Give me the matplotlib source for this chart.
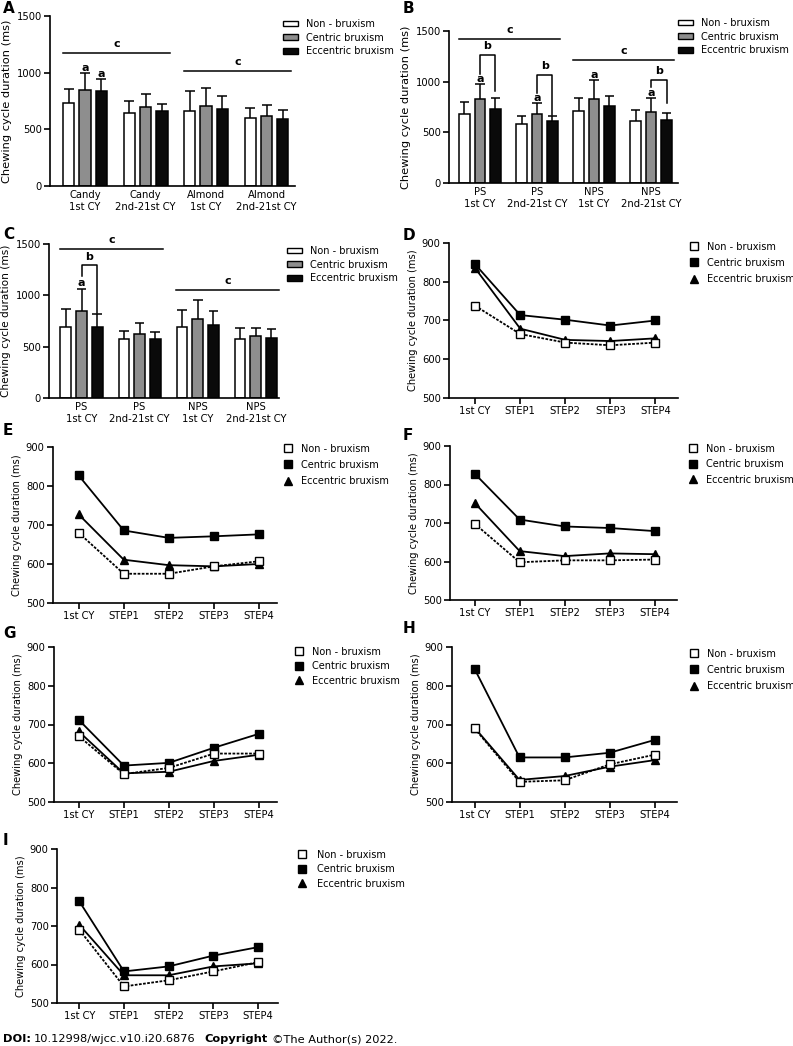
import matplotlib
matplotlib.use("Agg")
import matplotlib.pyplot as plt
from matplotlib.lines import Line2D
from matplotlib.patches import Patch

plt.rcParams['font.family'] = ['DejaVu Sans']
plt.rcParams['font.size'] = 7

W, H = 793, 1046

series = ['Non - bruxism', 'Centric bruxism', 'Eccentric bruxism']
labels_A = ['Candy\n1st CY', 'Candy\n2nd-21st CY', 'Almond\n1st CY', 'Almond\n2nd-21st CY']
labels_BC = ['PS\n1st CY', 'PS\n2nd-21st CY', 'NPS\n1st CY', 'NPS\n2nd-21st CY']
steps = ['1st CY', 'STEP1', 'STEP2', 'STEP3', 'STEP4']

# panel A - candy / almond
a_non = [734, 640, 666, 598]
a_cen = [846, 698, 707, 622]
a_ecc = [837, 666, 678, 592]
a_non_sd = [121, 112, 168, 92]
a_cen_sd = [147, 115, 159, 91]
a_ecc_sd = [106, 59, 118, 77]

# panel B
b_non = [676, 581, 706, 610]
b_cen = [827, 676, 827, 696]
b_ecc = [729, 610, 758, 617]
b_non_sd = [125, 85, 128, 112]
b_cen_sd = [151, 115, 187, 144]
b_ecc_sd = [114, 50, 105, 72]

# panel C
c_non = [690, 570, 690, 579]
c_cen = [843, 628, 768, 605]
c_ecc = [687, 579, 709, 589]
c_non_sd = [176, 84, 166, 98]
c_cen_sd = [221, 98, 182, 72]
c_ecc_sd = [130, 65, 140, 81]

# panels D-I (non, centric, eccentric)
d_non = [738, 665, 643, 636, 643]
d_cen = [845, 714, 702, 687, 700]
d_ecc = [835, 679, 650, 647, 654]
e_non = [680, 575, 575, 594, 607]
e_cen = [827, 686, 667, 671, 676]
e_ecc = [727, 611, 597, 594, 600]
f_non = [698, 598, 603, 603, 605]
f_cen = [828, 709, 691, 687, 679]
f_ecc = [752, 627, 614, 621, 619]
g_non = [670, 572, 588, 625, 625]
g_cen = [712, 594, 601, 640, 676]
g_ecc = [682, 574, 578, 606, 622]
h_non = [690, 552, 556, 597, 622]
h_cen = [844, 615, 615, 627, 660]
h_ecc = [692, 557, 567, 591, 608]
i_non = [690, 543, 559, 582, 606]
i_cen = [764, 582, 595, 623, 645]
i_ecc = [703, 572, 572, 595, 603]

# significance marks: c lines (first group, last group, y), a letters (group, series, y),
# b brackets (group, top, left end, right end)
sig_A = dict(c=[(0, 1, 1176), (2, 3, 1011)], a=[(0, 1, 1037), (0, 2, 990)], b=[])
sig_B = dict(c=[(0, 1, 1421), (2, 3, 1214)], a=[(0, 1, 1024), (1, 1, 840), (2, 1, 1070), (3, 1, 893)],
             b=[(0, 1263, 1075, 909), (1, 1067, 890, 673), (3, 1017, 945, 788)])
sig_C = dict(c=[(0, 1, 1451), (2, 3, 1054)], a=[(0, 1, 1120)], b=[(0, 1292, 1190, 826)])

fig = plt.figure(figsize=(W / 100, H / 100), dpi=100)


def add_ax(left, top, right, bottom):
    return fig.add_axes([left / W, 1 - bottom / H, (right - left) / W, (bottom - top) / H])


def style(ax, lab_size):
    for s in ['top', 'right']:
        ax.spines[s].set_visible(False)
    for s in ['left', 'bottom']:
        ax.spines[s].set_linewidth(1.2)
    ax.tick_params(width=1.2, length=4, labelsize=7.2, pad=2)
    ax.set_ylabel('Chewing cycle duration (ms)', fontsize=lab_size, labelpad=3)


def bar_panel(box, labels, means, sds, xlim, sig, leg, lab_size=8.2):
    ax = add_ax(*box)
    style(ax, lab_size)
    offs = [-0.27, 0, 0.27]
    w = 0.185
    colors = ['white', '#8e8e8e', '#0a0a0a']
    handles = []
    for k in range(3):
        xs = [g + offs[k] for g in range(len(labels))]
        ax.bar(xs, means[k], width=w, color=colors[k], edgecolor='black', linewidth=1.1, zorder=2)
        tops = [m + s for m, s in zip(means[k], sds[k])]
        ax.vlines(xs, means[k], tops, color='black', lw=1.1, zorder=1)
        ax.hlines(tops, [x - w * 0.45 for x in xs], [x + w * 0.45 for x in xs], color='black', lw=1.1)
        handles.append(Patch(facecolor=colors[k], edgecolor='black', linewidth=1.0, label=series[k]))
    ax.set_xlim(*xlim)
    ax.set_ylim(0, 1500)
    ax.set_yticks([0, 500, 1000, 1500])
    ax.set_xticks(range(len(labels)))
    ax.set_xticklabels(labels, linespacing=1.2)
    ax.tick_params(axis='x', length=0, pad=3)
    for g0, g1, y in sig['c']:
        ax.plot([g0 - 0.37, g1 + 0.4], [y, y], color='black', lw=1.1, clip_on=False)
        ax.text((g0 + g1) / 2 + 0.02, y + 35, 'c', ha='center', va='bottom', fontsize=8, fontweight='bold')
    for g, k, y in sig['a']:
        ax.text(g + offs[k], y, 'a', ha='center', va='center', fontsize=8, fontweight='bold')
    for g, top, yl, yr in sig['b']:
        x0, x1 = g + offs[1], g + offs[2]
        ax.plot([x0, x0, x1, x1], [yl, top, top, yr], color='black', lw=1.1, clip_on=False)
        ax.text((x0 + x1) / 2, top + 35, 'b', ha='center', va='bottom', fontsize=8, fontweight='bold')
    ax.legend(handles=handles, loc='upper left', bbox_to_anchor=(leg[0] / W, 1 - leg[1] / H),
              bbox_transform=fig.transFigure, frameon=False, fontsize=7, borderpad=0,
              handlelength=1.6, handleheight=0.5, handletextpad=0.8, labelspacing=0.38)
    return ax


def line_panel(box, non, cen, ecc, xlim, leg, spacing):
    ax = add_ax(*box)
    style(ax, 7.1)
    x = range(len(steps))
    ax.plot(x, ecc, color='black', lw=1.3, marker='^', ms=6, zorder=2)
    ax.plot(x, cen, color='black', lw=1.3, marker='s', ms=5.5, zorder=3)
    ax.plot(x, non, color='black', lw=1.3, ls=(0, (1.5, 0.8)), marker='s', ms=5.5,
            mfc='white', mec='black', mew=1.0, zorder=4)
    ax.set_xlim(*xlim)
    ax.set_ylim(500, 900)
    ax.set_yticks([500, 600, 700, 800, 900])
    ax.set_xticks(list(x))
    ax.set_xticklabels(steps)
    handles = [Line2D([], [], ls='none', marker='s', ms=5.5, mfc='white', mec='black', label=series[0]),
               Line2D([], [], ls='none', marker='s', ms=5.5, color='black', label=series[1]),
               Line2D([], [], ls='none', marker='^', ms=6, color='black', label=series[2])]
    ax.legend(handles=handles, loc='upper left', bbox_to_anchor=(leg[0] / W, 1 - leg[1] / H),
              bbox_transform=fig.transFigure, frameon=False, fontsize=7, borderpad=0,
              handlelength=1.0, handletextpad=leg[2], labelspacing=spacing)
    return ax


bar_panel((50, 16, 295, 186), labels_A, [a_non, a_cen, a_ecc], [a_non_sd, a_cen_sd, a_ecc_sd],
          (-0.58, 3.47), sig_A, (278, 14))
bar_panel((449, 31, 678, 183), labels_BC, [b_non, b_cen, b_ecc], [b_non_sd, b_cen_sd, b_ecc_sd],
          (-0.54, 3.47), sig_B, (673, 13))
bar_panel((49, 244, 279, 398), labels_BC, [c_non, c_cen, c_ecc], [c_non_sd, c_cen_sd, c_ecc_sd],
          (-0.56, 3.4), sig_C, (282, 241), lab_size=7.6)

line_panel((449, 243, 678, 398), d_non, d_cen, d_ecc, (-0.58, 4.5), (684, 237, 0.85), 0.62)
line_panel((53, 447, 277, 603), e_non, e_cen, e_ecc, (-0.57, 4.4), (278, 439, 0.85), 0.62)
line_panel((450, 446, 677, 600), f_non, f_cen, f_ecc, (-0.55, 4.5), (683, 439, 0.85), 0.55)
line_panel((54, 647, 277, 802), g_non, g_cen, g_ecc, (-0.55, 4.4), (289, 642, 0.85), 0.45)
line_panel((452, 647, 677, 802), h_non, h_cen, h_ecc, (-0.5, 4.5), (684, 644, 0.85), 0.62)
line_panel((57, 849, 278, 1003), i_non, i_cen, i_ecc, (-0.5, 4.45), (292, 845, 1.1), 0.45)

# panel letters
for letter, xp, yp in [('A', 3, 13), ('B', 403, 13), ('C', 3, 239), ('D', 403, 240), ('E', 3, 435),
                       ('F', 403, 440), ('G', 3, 638), ('H', 403, 633), ('I', 3, 845)]:
    fig.text(xp / W, 1 - yp / H, letter, fontsize=11, fontweight='bold', ha='left', va='baseline')

# footer, laid out left to right
fy = 1 - 1042 / H
renderer = fig.canvas.get_renderer()
xpos = 3
for txt, wt, gap in [('DOI:', 'bold', 3), ('10.12998/wjcc.v10.i20.6876', 'normal', 9),
                     ('Copyright', 'bold', 4), ('\u00a9The Author(s) 2022.', 'normal', 0)]:
    t = fig.text(xpos / W, fy, txt, fontsize=8.2, fontweight=wt, va='baseline')
    xpos = t.get_window_extent(renderer).x1 + gap

fig.savefig('out.png', dpi=100)
